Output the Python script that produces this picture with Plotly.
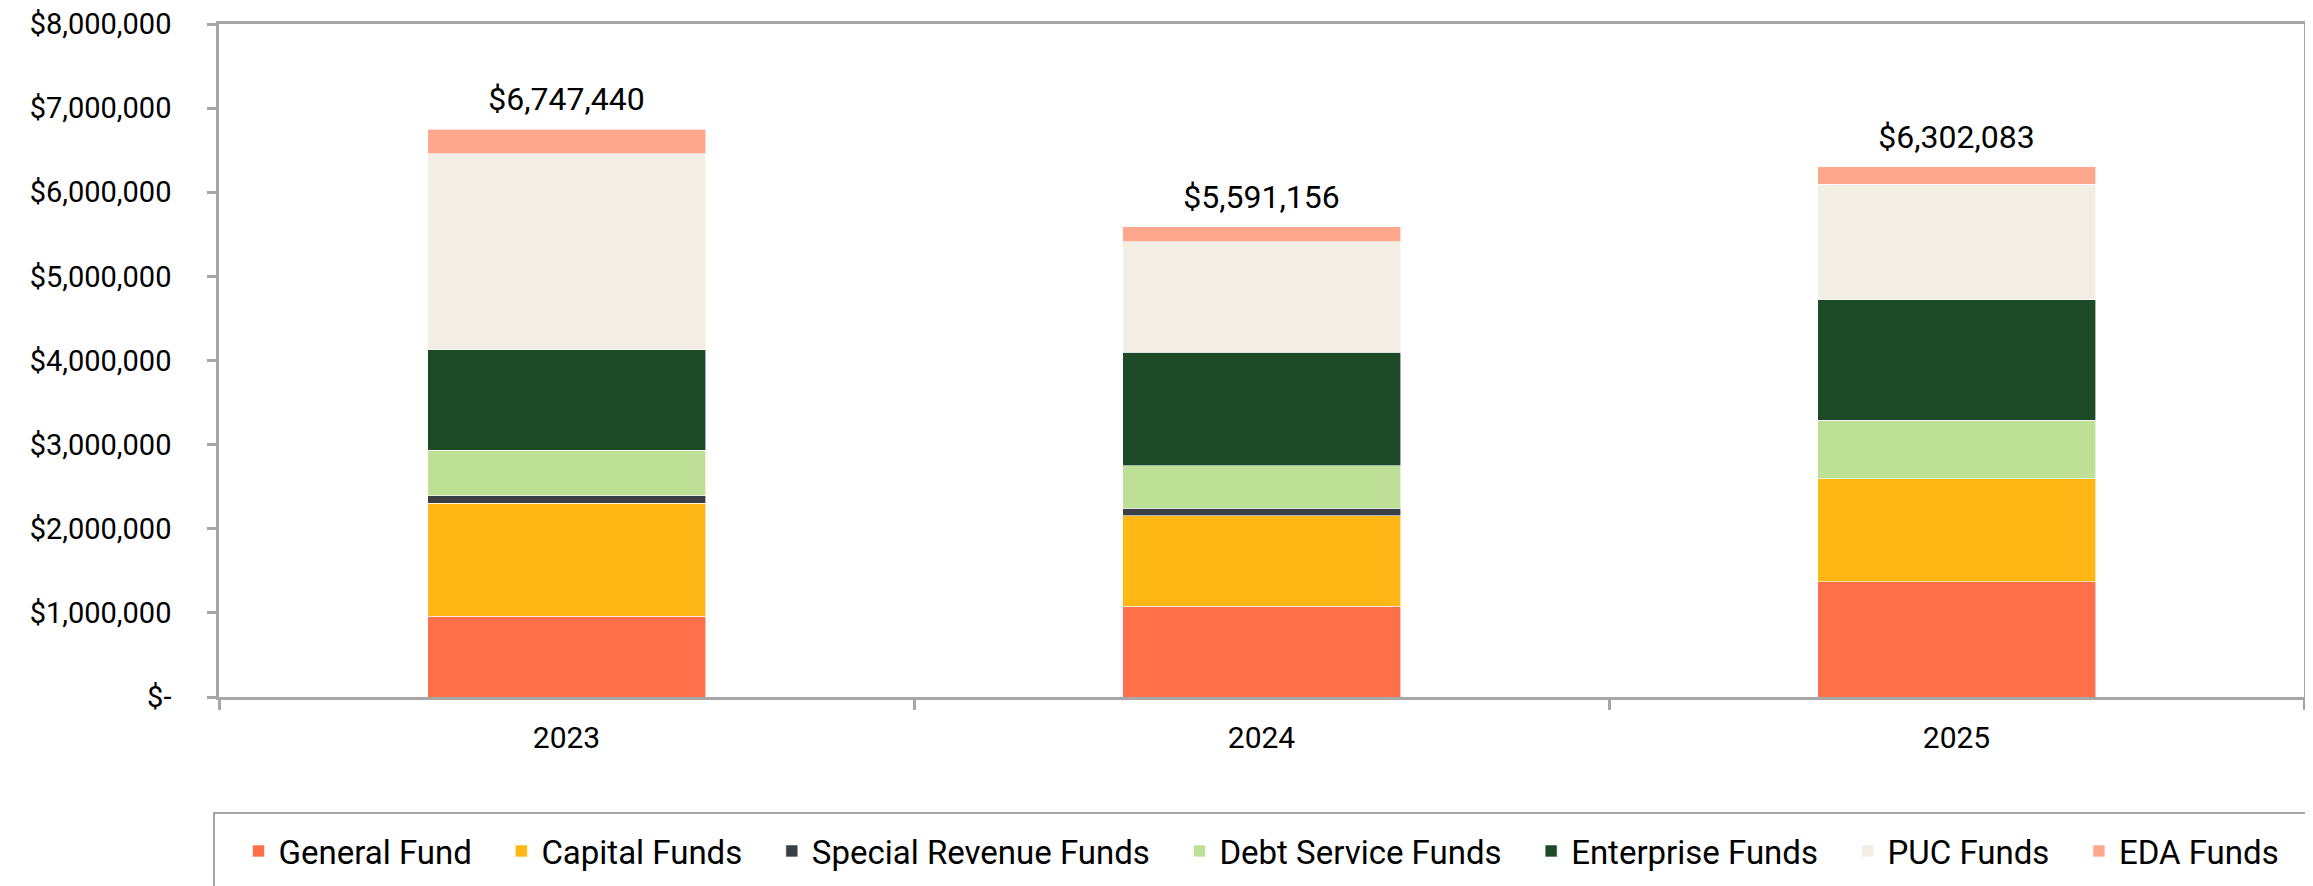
import plotly.graph_objects as go

years = ["2023", "2024", "2025"]
general_fund = [960000, 1080000, 1370000]
capital_funds = [1345000, 1075000, 1225000]
special_revenue_funds = [90000, 90000, 0]
debt_service_funds = [540000, 505000, 695000]
enterprise_funds = [1190000, 1350000, 1430000]
puc_funds = [2330000, 1310000, 1375000]
eda_funds = [292440, 181156, 207083]
totals = [6747440, 5591156, 6302083]
total_labels = ["$6,747,440", "$5,591,156", "$6,302,083"]

y_tick_vals = [0, 1000000, 2000000, 3000000, 4000000, 5000000, 6000000, 7000000, 8000000]
y_tick_text = ["$-", "$1,000,000", "$2,000,000", "$3,000,000", "$4,000,000",
               "$5,000,000", "$6,000,000", "$7,000,000", "$8,000,000"]

series_names = ["General Fund", "Capital Funds", "Special Revenue Funds",
                "Debt Service Funds", "Enterprise Funds", "PUC Funds", "EDA Funds"]
series_values = [general_fund, capital_funds, special_revenue_funds,
                 debt_service_funds, enterprise_funds, puc_funds, eda_funds]
series_colors = ["#FF6F4A", "#FFB715", "#3A3F44", "#BDE096", "#1C4A26", "#F2EEE3", "#FFA78C"]

FONT = "Roboto"
GRAY = "#A6A6A6"
PAD = "\u00a0\u00a0\u00a0"

fig = go.Figure()
for i, (name, vals, color) in enumerate(zip(series_names, series_values, series_colors)):
    label = name + (PAD if i < len(series_names) - 1 else "")
    fig.add_trace(go.Bar(
        name=label, x=years, y=vals, width=0.4,
        marker=dict(color=color, line=dict(color="white", width=0.6)),
    ))

fig.add_trace(go.Scatter(
    x=years, y=totals, mode="markers+text", text=total_labels,
    marker=dict(size=16, opacity=0),
    textposition="top center", textfont=dict(size=32, color="black", family=FONT),
    showlegend=False, cliponaxis=False, hoverinfo="skip",
))

# page body has an 8px default margin, so the figure is drawn 8px in from the window edge
W, H = 2305, 878
L, R, T, B = 211, 9, 16, 189
pw = W - L - R
ph = H - T - B
OFF = 8

def px_x(x):
    return (x - OFF - L) / pw

def px_y(y):
    return (H - B - (y - OFF)) / ph

fig.add_shape(
    type="rect", xref="paper", yref="paper",
    x0=px_x(214), x1=px_x(2307),
    y0=px_y(900), y1=px_y(813),
    line=dict(color=GRAY, width=2), fillcolor="rgba(0,0,0,0)", layer="above",
)

fig.update_layout(
    width=W, height=H,
    margin=dict(l=L, r=R, t=T, b=B, pad=0, autoexpand=False),
    barmode="stack",
    plot_bgcolor="white", paper_bgcolor="white",
    font=dict(family=FONT, size=29, color="black"),
    showlegend=True,
    legend=dict(
        orientation="h", x=0.5, xanchor="center",
        y=px_y(851), yanchor="middle",
        font=dict(size=33, family=FONT, color="black"),
        traceorder="normal", bgcolor="rgba(0,0,0,0)",
    ),
    xaxis=dict(
        type="category", showline=True, linecolor=GRAY, linewidth=2.5,
        mirror=True, ticks="outside", tickson="boundaries", ticklen=10,
        tickcolor=GRAY, tickwidth=2.5, showgrid=False, automargin=False,
        tickfont=dict(size=30, family=FONT, color="black"),
        ticklabelstandoff=12, ticklabeloverflow="allow",
    ),
    yaxis=dict(
        range=[0, 8000000], tickvals=y_tick_vals, ticktext=y_tick_text,
        showline=True, linecolor=GRAY, linewidth=2.5, mirror=True,
        ticks="outside", ticklen=9, tickcolor=GRAY, tickwidth=2.5,
        showgrid=False, zeroline=False, automargin=False,
        tickfont=dict(size=29, family=FONT, color="black"),
        ticklabelstandoff=30, ticklabeloverflow="allow",
    ),
)

fig.write_html("out.html")
